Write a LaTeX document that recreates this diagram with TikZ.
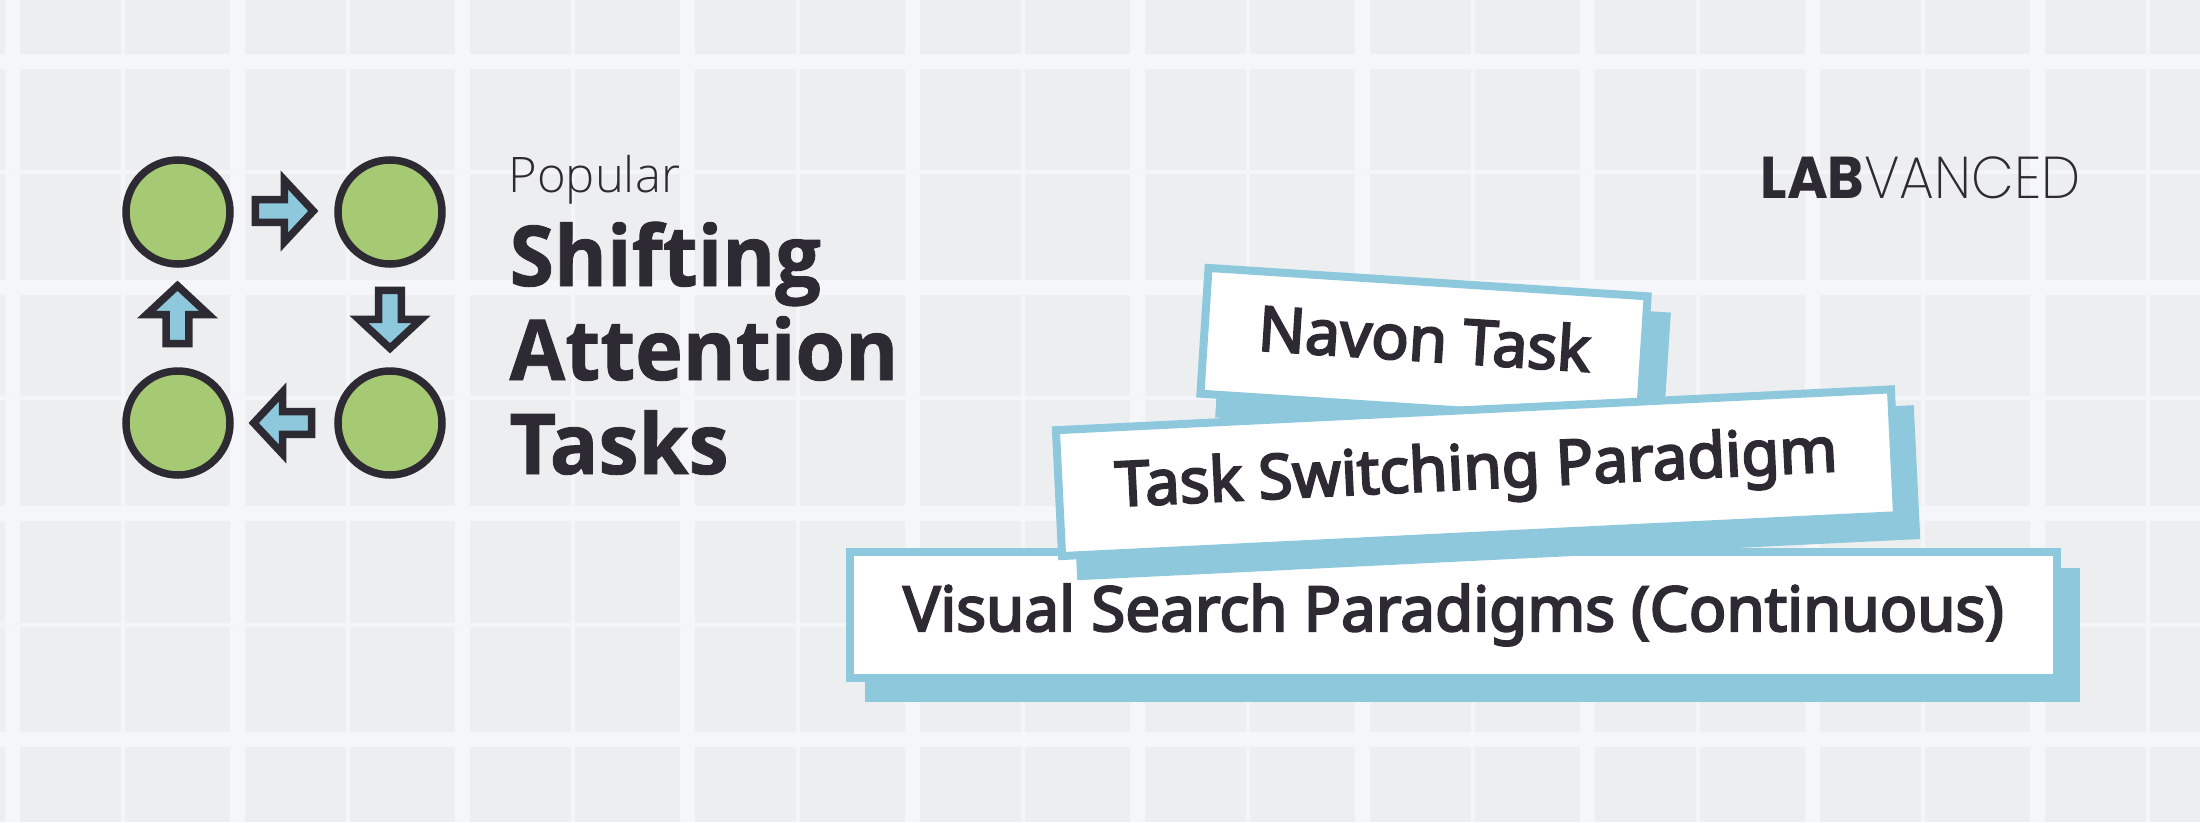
\documentclass[tikz,border=0pt]{standalone}
\usepackage{fontspec}
\setmainfont{Noto Sans}
\newfontfamily\titlefont{Open Sans}[BoldFeatures={FakeStretch=0.96,FakeBold=1}]
\newfontfamily\lightfont{Open Sans Light}
\newfontfamily\labelfont{Noto Sans}[FakeBold=3.5]
\newfontfamily\logobold{Poppins}[UprightFont=* Bold, FakeStretch=0.94]
\newfontfamily\logolight{Poppins}[UprightFont=* ExtraLight, FakeStretch=0.94]
\usepackage{tikz}
\usetikzlibrary{shapes.arrows,shadows}

\definecolor{gridbg}{HTML}{ECEEF0}
\definecolor{gridline}{HTML}{F5F6F9}
\definecolor{stepgreen}{HTML}{A6CA74}
\definecolor{skyblue}{HTML}{8EC8DC}
\definecolor{inkdark}{HTML}{2D2A33}

\tikzset{
  stepdot/.style={draw=inkdark, fill=stepgreen, circle, line width=7.5pt, minimum size=104pt, inner sep=0pt},
  flowarrow/.style={draw=inkdark, fill=skyblue, single arrow, line width=7.5pt, inner sep=0pt, minimum height=58pt,
    minimum width=62pt, single arrow head extend=6.5pt, single arrow tip angle=94},
  titleline/.style={anchor=base west, text=inkdark, font=\fontsize{84}{90}\titlefont\bfseries},
  labelbox/.style={draw=skyblue, fill=white, line width=8pt, inner sep=0pt, minimum height=126pt, text=inkdark,
    text height=46pt, text depth=14pt, font=\fontsize{62}{70}\labelfont,
    general shadow={fill=skyblue, draw=skyblue, line width=8pt, shadow xshift=19pt, shadow yshift=-20pt}}
}

\begin{document}
\begin{tikzpicture}[x=1pt, y=-1pt]
\useasboundingbox (0,0) rectangle (2200,822);
\fill[gridbg] (0,0) rectangle (2200,822);

% background grid
\foreach \x in {0,...,9} {
  \draw[gridline, line width=15pt] ({12+225*\x},0) -- ({12+225*\x},822);
  \draw[gridline!85!gridbg, line width=4pt] ({123+225*\x},0) -- ({123+225*\x},822);
}
\foreach \y in {0,...,3} {
  \draw[gridline, line width=15pt] (0,{61+226.3*\y}) -- (2200,{61+226.3*\y});
  \draw[gridline!85!gridbg, line width=4pt] (0,{172+226.3*\y}) -- (2200,{172+226.3*\y});
}

\node[stepdot] at (178,212) (dotnw) {};
\node[stepdot] at (390,212) (dotne) {};
\node[stepdot] at (178,423) (dotsw) {};
\node[stepdot] at (390,423) (dotse) {};

\node[flowarrow] at (279,211) (arrowright) {};
\node[flowarrow, rotate=-90] at (390,314) (arrowdown) {};
\node[flowarrow, rotate=180] at (288,423) (arrowleft) {};
\node[flowarrow, rotate=90] at (177.5,320) (arrowup) {};

\node[anchor=base west, text=inkdark, font=\fontsize{49}{56}\lightfont] at (505,192) (popular) {Popular};
\node[titleline] at (506,286) (shifting) {Shifting};
\node[titleline] at (506,380) (attention) {Attention};
\node[titleline] at (506,474) (tasks) {Tasks};

\node[anchor=base west, text=inkdark, font=\fontsize{59}{60}\selectfont] at (1757,198) (logo) {{\logobold LAB}{\logolight VANCED}};

% the middle box lies over the two others
\node[labelbox, minimum width=440pt, rotate=-3.7] at (1424,345) (navon) {Navon Task};
\node[labelbox, minimum width=1207pt] at (1453.5,615) (search) {Visual Search Paradigms (Continuous)};
\node[labelbox, minimum width=836pt, rotate=2.8] at (1476.5,472.7) (switching) {Task Switching Paradigm};
\end{tikzpicture}
\end{document}
